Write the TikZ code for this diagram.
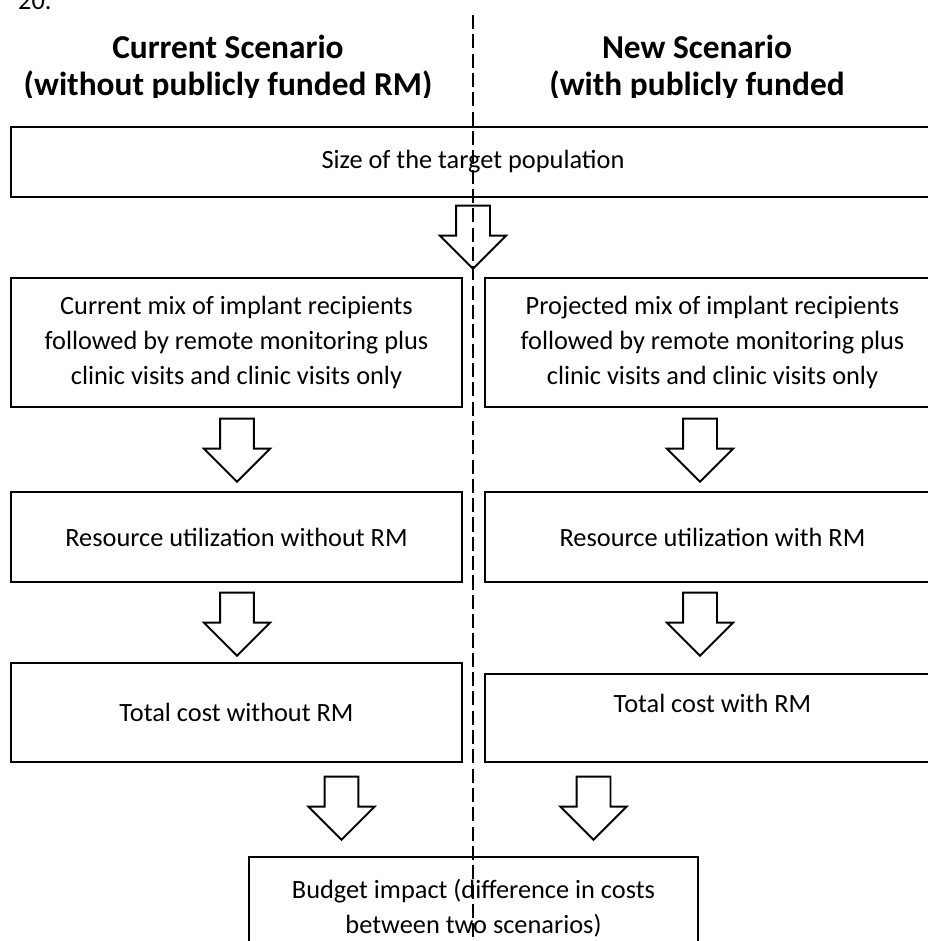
\documentclass[tikz,border=0pt]{standalone}
\usepackage{fontspec}
\setmainfont{Carlito}
\usetikzlibrary{arrows,shapes.arrows,positioning,shapes}
\newcommand{\bodyfont}{\fontsize{15pt}{20pt}\selectfont}
\newcommand{\headfont}{\fontsize{19pt}{21pt}\selectfont\bfseries}

\begin{document}
\begin{tikzpicture}[x = .02cm, y = -.02cm,
  stage/.style = {draw, line width = 1.6pt, align = center, font = \bodyfont, inner sep = 0pt},
  flow/.style = {single arrow, draw, line width = 1.1pt, fill = white, rotate = -90, anchor = tip, minimum height = 1.26cm, minimum width = 1.28cm, single arrow head extend = .32cm, inner xsep = 0pt, inner ysep = .32cm}]
\useasboundingbox (0,0) rectangle (928,941);
\node[font = \bodyfont, anchor = base west] (num) at (12,9) {20.};
\begin{scope}
\clip (0,0) rectangle (928,97);
\node[font = \headfont, align = center] (curhead) at (228,68) {Current Scenario\\(without publicly funded RM)};
\node[font = \headfont, align = center] (newhead) at (697,68) {New Scenario\\(with publicly funded};
\end{scope}
\node[stage, minimum width = 18.48cm, minimum height = 1.4cm] (target) at (473,162) {Size of the target population};
\node[stage, minimum width = 9.02cm, minimum height = 2.58cm] (mixcur) at (236.5,342.5) {Current mix of implant recipients\\followed by remote monitoring plus\\clinic visits and clinic visits only};
\node[stage, minimum width = 9.1cm, minimum height = 2.58cm] (mixnew) at (712.5,342.5) {Projected mix of implant recipients\\followed by remote monitoring plus\\clinic visits and clinic visits only};
\node[stage, minimum width = 9.02cm, minimum height = 1.8cm] (rescur) at (236.5,537) {Resource utilization without RM};
\node[stage, minimum width = 9.1cm, minimum height = 1.8cm] (resnew) at (712.5,537) {Resource utilization with RM};
\node[stage, minimum width = 9.02cm, minimum height = 1.98cm] (costcur) at (236.5,712.5) {Total cost without RM};
\node[stage, minimum width = 9.1cm, minimum height = 1.76cm, text depth = .58cm] (costnew) at (712.5,718) {Total cost with RM};
\node[stage, minimum width = 8.98cm, minimum height = 2.04cm] (budget) at (473.5,908) {Budget impact (difference in costs\\between two scenarios)};
% block arrows
\node[flow] (toMix) at (473,270) {};
\node[flow] (toRescur) at (237,483) {};
\node[flow] (toResnew) at (700,483) {};
\node[flow] (toCostcur) at (237,657) {};
\node[flow] (toCostnew) at (700,657) {};
\node[flow] (toBudgetcur) at (341.5,841) {};
\node[flow] (toBudgetnew) at (593.5,841) {};
% divider
\coordinate (dtop) at (473,15);
\coordinate (dbot) at (473,945);
\draw[line width = 1.1pt, dash pattern = on 8pt off 3pt] (dtop) -- (dbot);
\end{tikzpicture}
\end{document}
